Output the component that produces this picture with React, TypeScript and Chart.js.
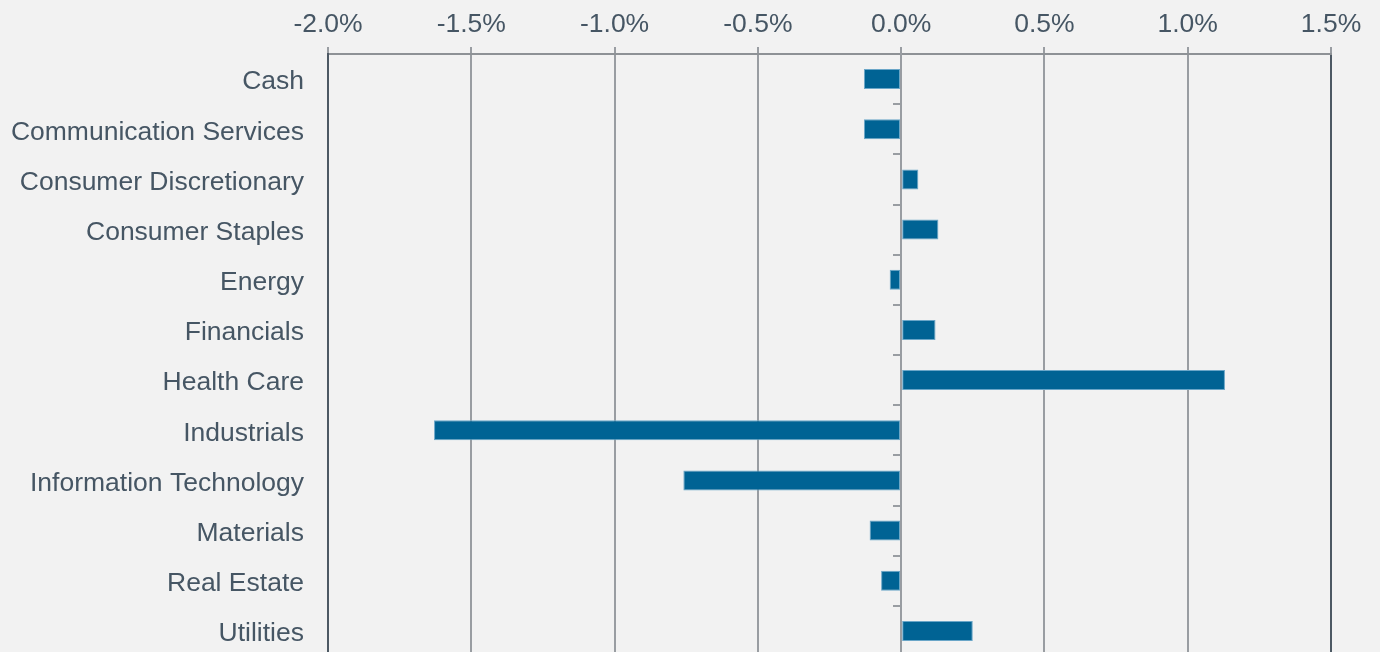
import React, { useEffect, useRef } from "react";
import { Chart, registerables } from "chart.js";

Chart.register(...registerables);

const categories = [
  "Cash",
  "Communication Services",
  "Consumer Discretionary",
  "Consumer Staples",
  "Energy",
  "Financials",
  "Health Care",
  "Industrials",
  "Information Technology",
  "Materials",
  "Real Estate",
  "Utilities",
];

const values = [-0.13, -0.13, 0.06, 0.13, -0.04, 0.12, 1.13, -1.63, -0.76, -0.11, -0.07, 0.25];

const xMin = -2.0;
const xMax = 1.5;
const xStep = 0.5;

export default function App() {
  const ref = useRef<HTMLCanvasElement | null>(null);

  useEffect(() => {
    if (!ref.current) return;
    const textColor = "#465664";
    const gridGray = "#999da2";
    const darkLine = "#4d5964";
    const font = { family: "'Liberation Sans', Arial, sans-serif", size: 26.5 };
    const chart = new Chart(ref.current, {
      type: "bar",
      data: {
        labels: categories,
        datasets: [
          {
            data: values,
            backgroundColor: "#006394",
            borderColor: "#6aa6c8",
            borderWidth: 1,
            borderSkipped: false,
            barPercentage: 0.8,
            categoryPercentage: 0.5,
          },
        ],
      },
      options: {
        indexAxis: "y",
        animation: false,
        responsive: false,
        maintainAspectRatio: false,
        layout: { padding: { left: 0, right: 49, top: 0, bottom: 0 } },
        plugins: { legend: { display: false }, tooltip: { enabled: false } },
        scales: {
          x: {
            type: "linear",
            position: "top",
            min: xMin,
            max: xMax,
            ticks: {
              stepSize: xStep,
              color: textColor,
              font,
              padding: 6,
              callback: (v: any) => Number(v).toFixed(1) + "%",
            },
            grid: {
              color: (ctx: any) => {
                const v = ctx.tick ? ctx.tick.value : 0;
                return v === xMin || v === xMax ? darkLine : gridGray;
              },
              lineWidth: 2,
              tickLength: 7,
              tickColor: gridGray,
              tickWidth: 2,
            },
            border: { display: true, color: "#8e9296", width: 2 },
            afterFit: (scale: any) => {
              scale.height = 54;
            },
          },
          y: {
            type: "category",
            position: "left",
            offset: true,
            ticks: { color: textColor, font, padding: 16, labelOffset: 3 },
            grid: { display: false, offset: true },
            border: { display: true, color: darkLine, width: 2 },
            afterFit: (scale: any) => {
              scale.width = 328;
              scale.paddingTop = 0;
              scale.paddingBottom = 0;
            },
          },
          y2: {
            type: "category",
            labels: categories,
            position: { x: 0 } as any,
            offset: true,
            ticks: { display: false },
            grid: {
              offset: true,
              drawOnChartArea: false,
              drawTicks: true,
              tickLength: 7,
              color: gridGray,
              lineWidth: 2,
            },
            border: { display: true, color: gridGray, width: 2 },
            afterFit: (scale: any) => {
              scale.paddingTop = 0;
              scale.paddingBottom = 0;
            },
          },
        },
      },
    } as any);
    return () => chart.destroy();
  }, []);

  return (
    <div
      style={{
        position: "fixed",
        left: 0,
        top: 0,
        width: 1380,
        height: 652,
        overflow: "hidden",
        background: "#f2f2f2",
      }}
    >
      <canvas ref={ref} width={1380} height={656} style={{ display: "block" }} />
    </div>
  );
}
